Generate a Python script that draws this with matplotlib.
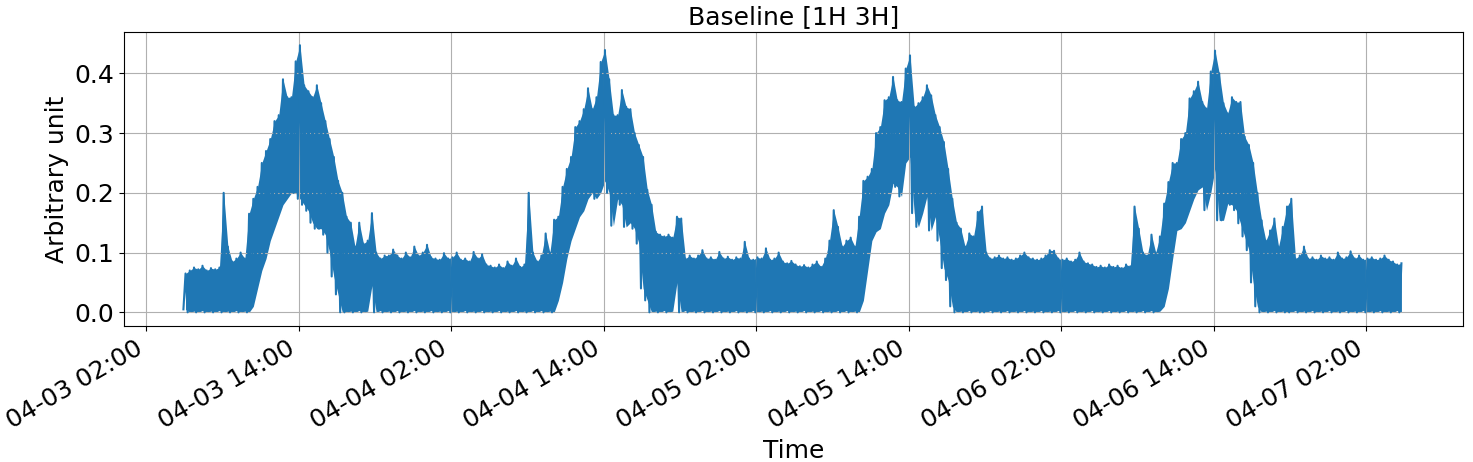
import numpy as np
import matplotlib.pyplot as plt
import matplotlib.dates as mdates

# signal, one value per 20 min, first bin 04-03 04:55
# hi = top of the trace in the bin, lo = bottom of the trace in the bin
start = np.datetime64('2021-04-03T04:55')

hi_d1 = [0.065, 0.070, 0.075, 0.072, 0.078, 0.070, 0.074, 0.072, 0.075, 0.200, 0.110, 0.085,
         0.090, 0.100, 0.090, 0.165, 0.190, 0.210, 0.250, 0.270, 0.290, 0.320, 0.330, 0.390,
         0.360, 0.360, 0.420, 0.447, 0.380, 0.370, 0.360, 0.380, 0.350, 0.320, 0.290, 0.260,
         0.220, 0.200, 0.160, 0.150, 0.110, 0.150, 0.115, 0.120, 0.166, 0.100, 0.090, 0.095,
         0.095, 0.105, 0.095, 0.090, 0.100, 0.092, 0.110, 0.095, 0.100, 0.113, 0.092, 0.090,
         0.088, 0.099, 0.090, 0.092, 0.100, 0.088, 0.090, 0.085, 0.101, 0.090, 0.097, 0.080]
lo_d1 = [0.005, 0.000, 0.002, 0.000, 0.003, 0.000, 0.002, 0.000, 0.003, 0.000, 0.002, 0.000,
         0.003, 0.000, 0.002, 0.000, 0.010, 0.040, 0.070, 0.090, 0.120, 0.140, 0.160, 0.180,
         0.190, 0.200, 0.200, 0.190, 0.180, 0.170, 0.150, 0.140, 0.140, 0.130, 0.100, 0.060,
         0.030, 0.000, 0.000, 0.002, 0.000, 0.003, 0.000, 0.002, 0.045, 0.000, 0.003, 0.000,
         0.002, 0.000, 0.003, 0.000, 0.002, 0.000, 0.003, 0.000, 0.002, 0.000, 0.003, 0.000,
         0.002, 0.000, 0.003, 0.000, 0.002, 0.000, 0.003, 0.000, 0.002, 0.000, 0.003, 0.000]

hi_d2 = [0.078, 0.075, 0.080, 0.074, 0.085, 0.078, 0.090, 0.076, 0.080, 0.200, 0.100, 0.085,
         0.095, 0.132, 0.100, 0.155, 0.160, 0.210, 0.240, 0.260, 0.310, 0.320, 0.340, 0.375,
         0.340, 0.360, 0.419, 0.439, 0.390, 0.330, 0.330, 0.372, 0.344, 0.340, 0.300, 0.280,
         0.260, 0.205, 0.180, 0.135, 0.130, 0.127, 0.130, 0.125, 0.160, 0.157, 0.090, 0.095,
         0.090, 0.095, 0.104, 0.090, 0.092, 0.088, 0.101, 0.090, 0.093, 0.088, 0.092, 0.090,
         0.118, 0.090, 0.088, 0.092, 0.090, 0.107, 0.088, 0.090, 0.100, 0.085, 0.082, 0.086]
lo_d2 = [0.002, 0.000, 0.003, 0.000, 0.002, 0.000, 0.003, 0.000, 0.002, 0.000, 0.003, 0.000,
         0.003, 0.000, 0.002, 0.000, 0.020, 0.050, 0.090, 0.120, 0.140, 0.160, 0.170, 0.190,
         0.200, 0.190, 0.200, 0.220, 0.200, 0.145, 0.190, 0.180, 0.143, 0.150, 0.140, 0.115,
         0.040, 0.020, 0.000, 0.002, 0.000, 0.003, 0.000, 0.002, 0.050, 0.000, 0.003, 0.000,
         0.002, 0.000, 0.003, 0.000, 0.002, 0.000, 0.003, 0.000, 0.002, 0.000, 0.003, 0.000,
         0.002, 0.000, 0.003, 0.000, 0.002, 0.000, 0.003, 0.000, 0.002, 0.000, 0.003, 0.000]

hi_d3 = [0.080, 0.077, 0.079, 0.075, 0.080, 0.085, 0.076, 0.090, 0.120, 0.171, 0.143, 0.110,
         0.120, 0.125, 0.110, 0.160, 0.220, 0.227, 0.240, 0.300, 0.310, 0.355, 0.360, 0.394,
         0.355, 0.352, 0.408, 0.430, 0.344, 0.350, 0.360, 0.380, 0.363, 0.330, 0.310, 0.285,
         0.240, 0.190, 0.150, 0.140, 0.110, 0.132, 0.127, 0.168, 0.177, 0.100, 0.090, 0.092,
         0.095, 0.090, 0.092, 0.088, 0.090, 0.095, 0.100, 0.092, 0.090, 0.088, 0.090, 0.095,
         0.104, 0.103, 0.090, 0.088, 0.090, 0.085, 0.088, 0.100, 0.085, 0.082, 0.080, 0.076]
lo_d3 = [0.002, 0.000, 0.003, 0.000, 0.002, 0.000, 0.003, 0.000, 0.002, 0.000, 0.003, 0.000,
         0.003, 0.000, 0.002, 0.000, 0.020, 0.070, 0.120, 0.135, 0.140, 0.166, 0.180, 0.216,
         0.210, 0.194, 0.250, 0.260, 0.166, 0.143, 0.166, 0.194, 0.137, 0.160, 0.120, 0.074,
         0.054, 0.010, 0.000, 0.002, 0.000, 0.003, 0.000, 0.002, 0.000, 0.000, 0.003, 0.000,
         0.002, 0.000, 0.003, 0.000, 0.002, 0.000, 0.003, 0.000, 0.002, 0.000, 0.003, 0.000,
         0.002, 0.000, 0.003, 0.000, 0.002, 0.000, 0.003, 0.000, 0.002, 0.000, 0.003, 0.000]

hi_d4 = [0.078, 0.075, 0.080, 0.076, 0.078, 0.074, 0.080, 0.077, 0.177, 0.140, 0.100, 0.095,
         0.130, 0.100, 0.127, 0.182, 0.218, 0.250, 0.250, 0.290, 0.300, 0.358, 0.370, 0.386,
         0.352, 0.341, 0.403, 0.438, 0.400, 0.350, 0.333, 0.360, 0.352, 0.352, 0.294, 0.280,
         0.250, 0.200, 0.154, 0.120, 0.137, 0.157, 0.110, 0.143, 0.177, 0.190, 0.090, 0.095,
         0.110, 0.090, 0.092, 0.088, 0.095, 0.090, 0.092, 0.088, 0.100, 0.090, 0.092, 0.102,
         0.090, 0.095, 0.088, 0.090, 0.092, 0.088, 0.090, 0.095, 0.088, 0.085, 0.080, 0.082]
lo_d4 = [0.002, 0.000, 0.003, 0.000, 0.002, 0.000, 0.003, 0.000, 0.002, 0.000, 0.003, 0.000,
         0.003, 0.000, 0.002, 0.010, 0.040, 0.090, 0.137, 0.140, 0.150, 0.170, 0.190, 0.205,
         0.210, 0.171, 0.200, 0.240, 0.154, 0.154, 0.182, 0.180, 0.171, 0.149, 0.127, 0.104,
         0.050, 0.010, 0.000, 0.002, 0.000, 0.003, 0.000, 0.002, 0.000, 0.000, 0.003, 0.000,
         0.002, 0.000, 0.003, 0.000, 0.002, 0.000, 0.003, 0.000, 0.002, 0.000, 0.003, 0.000,
         0.002, 0.000, 0.003, 0.000, 0.002, 0.000, 0.003, 0.000, 0.002, 0.000, 0.003, 0.000]

hi = np.array(hi_d1 + hi_d2 + hi_d3 + hi_d4)
lo = np.array(lo_d1 + lo_d2 + lo_d3 + lo_d4)
n = len(hi)

# each bin: bottom at the start of the bin, top half a bin later
t_lo = start + np.arange(n) * np.timedelta64(20, 'm')
t_hi = t_lo + np.timedelta64(10, 'm')
t = np.empty(2 * n, dtype='datetime64[m]')
t[0::2] = t_lo
t[1::2] = t_hi
y = np.empty(2 * n)
y[0::2] = lo
y[1::2] = hi

to_dt = lambda a: a.astype('datetime64[s]').astype(object)

fig, ax = plt.subplots(figsize=(14.73, 4.62), dpi=100)
# dense band between bottom and top of the trace, then the trace itself
ax.fill_between(to_dt(t_hi), lo, hi, color='#1f77b4', lw=0)
ax.plot(to_dt(t), y, color='#1f77b4', lw=1.5)

ax.set_title('Baseline [1H 3H]', fontsize=18)
ax.set_xlabel('Time', fontsize=18)
ax.set_ylabel('Arbitrary unit', fontsize=18)
ax.tick_params(labelsize=18)
ax.xaxis.set_major_locator(mdates.HourLocator(byhour=[2, 14]))
ax.xaxis.set_major_formatter(mdates.DateFormatter('%m-%d %H:%M'))
ax.set_xlim(to_dt(np.datetime64('2021-04-03T00:16')),
            to_dt(np.datetime64('2021-04-07T09:37')))
ax.set_ylim(-0.0234, 0.4686)
ax.grid(True)

fig.autofmt_xdate()
fig.subplots_adjust(left=0.0844, right=0.9934, top=0.930, bottom=0.2937)
fig.savefig('out.png', dpi=100)
